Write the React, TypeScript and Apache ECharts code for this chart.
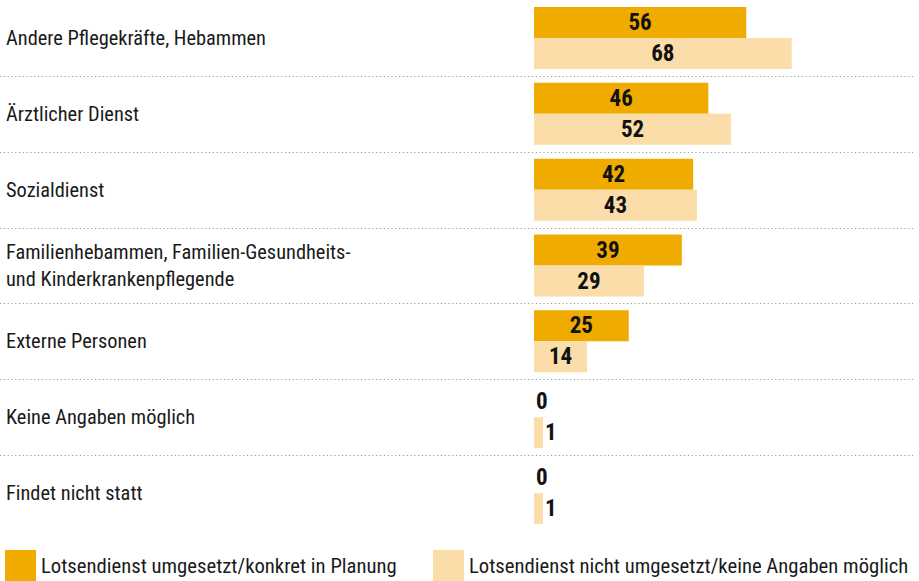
import React, { useEffect, useRef } from "react";
import * as echarts from "echarts";

const categories = [
  "Andere Pflegekräfte, Hebammen",
  "Ärztlicher Dienst",
  "Sozialdienst",
  "Familienhebammen, Familien-Gesundheits-\nund Kinderkrankenpflegende",
  "Externe Personen",
  "Keine Angaben möglich",
  "Findet nicht statt",
];
const seriesNames = [
  "Lotsendienst umgesetzt/konkret in Planung",
  "Lotsendienst nicht umgesetzt/keine Angaben möglich",
];
const umgesetzt = [56, 46, 42, 39, 25, 0, 0];
const nichtUmgesetzt = [68, 52, 43, 29, 14, 1, 1];

const FONT = '"Roboto Condensed", "Liberation Sans", sans-serif';
const ORANGE = "#F0AB00";
const LIGHT = "#FADDA9";

function toData(values: number[]) {
  return values.map((v) => ({
    value: v,
    label: v < 5 ? { position: "right", distance: 2 } : { position: "inside" },
  }));
}

export default function App() {
  const ref = useRef<HTMLDivElement>(null);
  useEffect(() => {
    if (!ref.current) return;
    const chart = echarts.init(ref.current, null, { renderer: "svg" });
    const labelStyle = {
      show: true,
      color: "#111",
      fontFamily: FONT,
      fontWeight: "bold",
      fontSize: 23,
    };
    const legendText = { color: "#1a1a1a", fontFamily: FONT, fontSize: 20.7 };
    chart.setOption({
      animation: false,
      backgroundColor: "#ffffff",
      grid: { left: 534, right: 6, top: -1, bottom: 50 },
      xAxis: {
        type: "value",
        min: 0,
        max: 100,
        show: false,
      },
      yAxis: {
        type: "category",
        data: categories,
        inverse: true,
        axisLine: { show: false },
        axisTick: { show: false },
        splitLine: { show: false },
        axisLabel: {
          align: "left",
          margin: 528,
          color: "#1a1a1a",
          fontFamily: FONT,
          fontSize: 20.4,
          lineHeight: 27,
        },
      },
      legend: [
        {
          data: [seriesNames[0]],
          left: 5,
          top: 550,
          padding: 0,
          itemWidth: 31,
          itemHeight: 31,
          icon: "rect",
          textStyle: legendText,
        },
        {
          data: [seriesNames[1]],
          left: 433,
          top: 550,
          padding: 0,
          itemWidth: 31,
          itemHeight: 31,
          icon: "rect",
          textStyle: legendText,
        },
      ],
      series: [
        {
          name: seriesNames[0],
          type: "bar",
          data: toData(umgesetzt),
          barWidth: 31,
          barGap: "0%",
          itemStyle: { color: ORANGE },
          label: labelStyle,
        },
        {
          name: seriesNames[1],
          type: "bar",
          data: toData(nichtUmgesetzt),
          barWidth: 31,
          barGap: "0%",
          barMinHeight: 9,
          itemStyle: { color: LIGHT },
          label: labelStyle,
        },
      ],
    });
    const ys = categories.map(
      (c) => chart.convertToPixel({ yAxisIndex: 0 }, c) as number
    );
    const lines = [];
    for (let i = 0; i < ys.length - 1; i++) {
      const y = Math.round((ys[i] + ys[i + 1]) / 2) + 0.5;
      lines.push({
        type: "line",
        shape: { x1: 0, y1: y, x2: 915, y2: y },
        style: { stroke: "#9a9a9a", lineWidth: 1, lineDash: [1.2, 2.6] },
        silent: true,
      });
    }
    chart.setOption({ graphic: lines });
    return () => chart.dispose();
  }, []);
  return (
    <div
      ref={ref}
      style={{ position: "absolute", left: 0, top: 0, width: 919, height: 581 }}
    />
  );
}
